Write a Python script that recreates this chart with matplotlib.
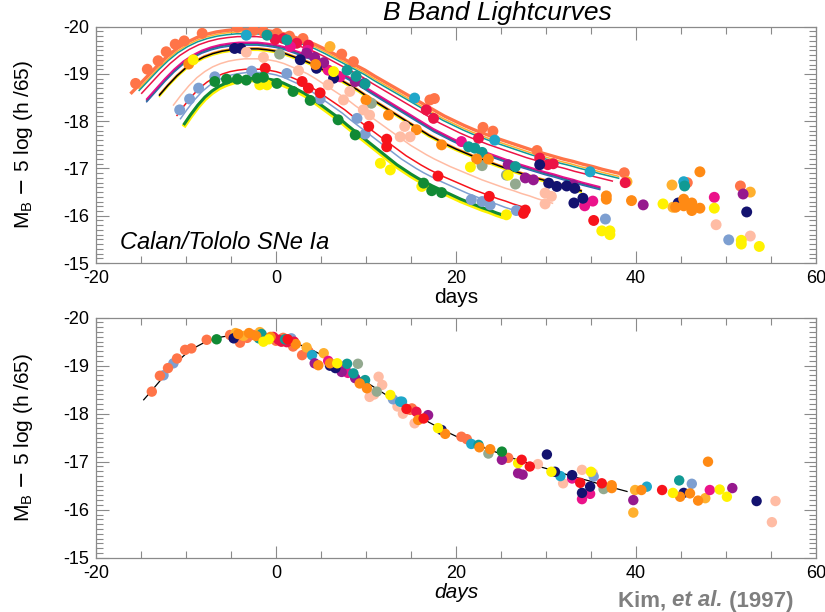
import numpy as np
import matplotlib
matplotlib.use("Agg")
import matplotlib.pyplot as plt
from matplotlib.ticker import MultipleLocator, FormatStrFormatter

plt.rcParams['font.family'] = ['Liberation Sans', 'DejaVu Sans']
plt.rcParams['axes.unicode_minus'] = False

# ---------------- template light curve -------------
TEMPLATE_DAYS = [-14.7, -14, -13, -12, -11, -10, -9, -8, -7, -6, -5, -4, -3, -2, -1,
                 0, 1, 2, 3, 4, 5, 6, 7, 8, 9, 10, 11, 12, 13, 14, 15, 16, 17, 18, 19,
                 20, 21, 22, 23, 24, 25, 26, 27, 28, 29, 30, 31, 32, 33, 34, 35, 36,
                 37, 38, 39]
TEMPLATE_MAG = [-18.29, -18.44, -18.66, -18.88, -19.08, -19.25, -19.38, -19.48, -19.55,
                -19.60, -19.63, -19.65, -19.65, -19.65, -19.63, -19.60, -19.55, -19.48,
                -19.41, -19.33, -19.23, -19.12, -19.01, -18.90, -18.79, -18.66, -18.54,
                -18.42, -18.30, -18.18, -18.06, -17.94, -17.82, -17.72, -17.62, -17.53,
                -17.45, -17.37, -17.30, -17.23, -17.16, -17.09, -17.03, -16.97, -16.91,
                -16.86, -16.80, -16.75, -16.69, -16.64, -16.59, -16.53, -16.48, -16.43,
                -16.38]

# ---------------- colours ---------------------------------------------------
C = {
    'coral': '#FF7448', 'gold': '#FFB02E', 'cyan': '#1FA7C9', 'crimson': '#EC1446',
    'deeppink': '#EB128A', 'purple': '#96198E', 'navy': '#13126F', 'teal': '#119A94',
    'sage': '#93A98F', 'orange': '#FF8A14', 'yellow': '#FFF200', 'green': '#118A35',
    'lightblue': '#7D9FD1', 'red': '#F7131B', 'peach': '#FFBCA4', 'blue': '#3A55B5',
    'black': '#000000',
}

# ---------------- fitted curves (upper panel) -------------------------------
CURVE_COLORS = ['gold', 'teal', 'coral', 'crimson', 'blue', 'teal', 'purple', 'deeppink',
                'yellow', 'orange', 'black', 'peach', 'red', 'lightblue', 'yellow', 'green']
CURVE_WIDTHS = [1.1, 1.1, 2.4, 1.1, 1.1, 1.1, 1.1, 1.1,
                1.1, 1.1, 1.1, 1.1, 1.1, 1.1, 3.2, 2.2]
CURVE_STRETCH = [1.09, 1.09, 1.10, 1.07, 1.03, 1.03, 1.03, 1.03,
                 1.00, 1.00, 1.00, 0.88, 0.85, 0.82, 0.79, 0.79]
CURVE_DMAG = [-0.24, -0.20, -0.29, -0.14, 0.04, 0.02, 0.00, -0.02,
              0.15, 0.10, 0.12, 0.33, 0.55, 0.62, 0.78, 0.74]
CURVE_START = [-16.0, -15.9, -16.2, -15.3, -14.6, -14.6, -14.6, -14.6,
               -13.8, -13.8, -13.8, -12.3, -11.4, -10.9, -10.5, -10.5]
CURVE_END = [38.8, 38.5, 38.7, 38.4, 36.6, 36.6, 36.6, 36.6,
             34.9, 34.9, 34.9, 31.0, 28.6, 27.3, 25.8, 25.8]

# ---------------- observed points, upper panel ------------------------------
TOP_CORAL = [(-15.6, -18.80), (-14.3, -19.10), (-13.1, -19.28), (-12.2, -19.47), (-11.2, -19.63),
             (-10.2, -19.70), (-8.2, -19.86), (-4.3, -19.99), (-2.5, -19.92), (-1.4, -19.90),
             (0.1, -19.86), (1.5, -19.80), (3.0, -19.75), (7.3, -19.42), (8.6, -19.26),
             (17.1, -18.45), (17.6, -18.48), (23.0, -17.87), (24.1, -17.79), (29.0, -17.38),
             (38.7, -16.91), (45.7, -16.70), (51.6, -16.63)]
TOP_GOLD = [(6.0, -19.58), (39.0, -16.72), (44.0, -16.65), (52.7, -16.50), (44.1, -16.18)]
TOP_CYAN = [(-3.3, -19.82), (15.4, -18.49), (24.3, -17.60), (34.9, -16.93), (45.3, -16.72)]
TOP_CRIMSON = [(-0.1, -19.73), (0.8, -19.75), (2.3, -19.65), (3.6, -19.61), (16.7, -18.24),
               (17.5, -18.06), (22.5, -17.64), (29.3, -17.22), (30.2, -17.08), (30.8, -17.10),
               (38.8, -16.70)]
TOP_DEEPPINK = [(1.6, -19.58), (3.5, -19.50), (5.8, -19.08), (7.1, -18.94), (20.6, -17.57),
                (34.3, -16.21), (35.2, -16.31), (48.7, -16.39)]
TOP_PURPLE = [(3.4, -19.44), (4.3, -19.35), (5.3, -19.24), (8.8, -18.84), (9.8, -18.80),
              (25.8, -17.08), (27.7, -16.80), (28.6, -16.76), (33.0, -16.65), (40.8, -16.23),
              (51.9, -16.46)]
TOP_NAVY = [(-4.6, -19.54), (-3.9, -19.54), (2.7, -19.30), (4.5, -19.12), (6.4, -18.91),
            (29.3, -17.08), (30.3, -16.69), (31.2, -16.62), (32.3, -16.63), (33.2, -16.58),
            (34.1, -16.37), (33.1, -16.27), (44.7, -16.27), (52.3, -16.08)]
TOP_TEAL = [(-1.0, -19.82), (1.2, -19.72), (7.9, -19.08), (8.9, -18.95), (9.9, -18.79),
            (21.4, -17.46), (22.1, -17.43), (22.9, -17.34), (26.6, -17.04), (45.4, -16.63)]
TOP_SAGE = [(0.4, -19.42), (10.6, -18.38), (22.9, -17.06), (25.6, -16.86), (26.6, -16.67)]
TOP_ORANGE = [(-9.7, -19.21), (4.4, -19.20), (10.0, -18.45), (12.5, -18.13), (15.6, -17.82),
              (18.4, -17.50), (22.3, -17.20), (23.6, -17.20), (36.7, -16.42), (36.7, -16.35),
              (39.5, -16.32), (45.3, -16.35), (46.2, -16.27), (47.1, -16.16), (45.3, -16.21),
              (46.2, -16.11), (44.4, -16.18), (47.1, -16.93)]
TOP_YELLOW = [(-9.2, -19.30), (-1.8, -18.77), (-1.0, -18.77), (6.4, -19.05), (11.6, -17.11),
              (12.7, -16.97), (16.2, -16.62), (21.6, -17.03), (25.8, -16.86), (25.6, -16.02),
              (36.2, -15.68), (37.1, -15.68), (37.1, -15.60), (43.0, -16.25), (48.7, -16.16),
              (51.7, -15.48), (51.7, -15.40), (53.7, -15.35)]
TOP_GREEN = [(-6.8, -18.84), (-5.5, -18.89), (-4.3, -18.89), (-3.3, -18.87), (-2.1, -18.91),
             (-1.4, -18.93), (0.1, -18.80), (1.9, -18.63), (3.8, -18.44), (6.9, -18.03),
             (8.8, -17.71), (16.4, -16.69), (17.3, -16.53), (18.4, -16.49)]
TOP_LIGHTBLUE = [(-10.7, -18.24), (-9.6, -18.47), (-8.6, -18.70), (-6.8, -18.94), (-2.7, -19.06),
                 (1.2, -19.01), (4.9, -18.47), (9.0, -18.06), (9.9, -17.73), (21.7, -16.34),
                 (22.9, -16.30), (23.8, -16.23), (26.7, -16.11), (36.6, -15.93), (50.3, -15.49)]
TOP_RED = [(-1.2, -19.12), (2.9, -18.84), (3.6, -18.70), (4.9, -18.60), (10.3, -17.89),
           (12.3, -17.62), (12.3, -17.46), (18.0, -16.84), (23.7, -16.41), (27.5, -16.05),
           (27.7, -16.12), (35.3, -15.90)]
TOP_PEACH = [(-3.3, -19.46), (-1.4, -19.35), (2.5, -19.07), (5.8, -18.77), (8.2, -18.63),
             (7.5, -18.45), (9.7, -18.24), (10.4, -18.13), (13.8, -17.67), (14.3, -17.89),
             (14.9, -17.67), (29.9, -16.48), (30.6, -16.41), (29.9, -16.25), (48.9, -15.81),
             (52.7, -15.57)]

# ---------------- corrected points, lower panel -----------------------------
BOT_CORAL = [(-13.8, -18.46), (-12.9, -18.79), (-12.0, -18.95), (-11.0, -19.15), (-10.1, -19.33),
             (-9.4, -19.36), (-7.7, -19.54), (-5.1, -19.64), (-4.8, -19.60), (-4.0, -19.48),
             (-3.2, -19.58), (-2.5, -19.64), (-1.1, -19.57), (0.0, -19.52), (0.8, -19.58),
             (1.9, -19.40), (2.9, -19.22), (3.6, -19.30), (14.9, -18.08), (15.1, -18.11),
             (20.6, -17.52), (21.2, -17.47), (25.8, -17.08)]
BOT_GOLD = [(-4.5, -19.68), (-3.6, -19.62), (-1.8, -19.70), (3.4, -19.38), (5.3, -19.26),
            (39.9, -16.41), (39.7, -15.94), (47.7, -16.24)]
BOT_CYAN = [(4.0, -19.22), (13.8, -18.25), (14.0, -18.25), (21.7, -17.37), (31.6, -16.70),
            (41.2, -16.48)]
BOT_CRIMSON = [(-0.3, -19.60), (0.3, -19.54), (0.6, -19.50), (1.2, -19.49), (2.0, -19.50),
               (15.6, -18.04)]
BOT_DEEPPINK = [(5.8, -19.10), (7.5, -18.98), (8.0, -18.85), (32.9, -16.65), (34.0, -16.22),
                (34.9, -16.33), (48.2, -16.41)]
BOT_PURPLE = [(4.3, -19.05), (6.2, -19.02), (7.3, -18.87), (8.8, -18.74), (16.9, -17.97),
              (25.1, -17.04), (26.9, -16.76), (27.4, -16.73), (39.7, -16.20), (50.7, -16.45)]
BOT_NAVY = [(-4.7, -19.57), (6.0, -19.00), (6.6, -18.95), (18.4, -17.66), (30.1, -17.15),
            (31.0, -16.79), (32.9, -16.72), (34.0, -16.35), (34.9, -16.48), (45.3, -16.35),
            (53.4, -16.18)]
BOT_TEAL = [(-1.9, -19.57), (-1.6, -19.66), (1.0, -19.55), (7.9, -19.04), (8.6, -18.84),
            (9.9, -18.70), (22.5, -17.35), (44.8, -16.61)]
BOT_SAGE = [(9.1, -19.04), (11.2, -18.46), (23.6, -17.17), (36.4, -16.43)]
BOT_ORANGE = [(-4.2, -19.66), (-3.0, -19.68), (-2.2, -19.62), (-0.6, -19.60), (2.2, -19.45),
              (4.7, -19.01), (6.0, -19.05), (9.3, -18.63), (10.1, -18.53), (15.8, -17.87),
              (18.8, -17.58), (22.6, -17.30), (23.8, -17.26), (37.3, -16.51), (37.3, -16.45),
              (40.6, -16.41), (44.9, -16.27), (46.0, -16.34), (46.9, -16.19), (48.0, -17.00)]
BOT_YELLOW = [(-1.4, -19.50), (-0.8, -19.55), (6.8, -19.05), (12.7, -18.39), (18.0, -17.70),
              (26.9, -16.97), (30.6, -16.79), (35.0, -16.79), (44.1, -16.35), (49.3, -16.42),
              (50.1, -16.27)]
BOT_GREEN = [(-6.6, -19.55), (25.1, -17.21)]
BOT_LIGHTBLUE = [(-12.5, -18.80), (-11.4, -19.05), (1.7, -19.57), (13.0, -18.30),
                 (35.3, -16.69), (46.2, -16.54)]
BOT_RED = [(1.3, -19.55), (14.5, -18.10), (16.4, -17.90), (27.3, -17.04), (28.2, -16.90),
           (33.8, -16.56), (36.2, -16.55), (42.9, -16.41)]
BOT_PEACH = [(10.4, -18.35), (10.9, -18.40), (11.4, -18.77), (11.8, -18.60), (13.5, -18.15),
             (14.1, -18.00), (15.4, -17.80), (29.1, -16.95), (31.9, -16.55), (34.0, -16.83),
             (35.2, -16.76), (55.5, -16.18), (55.1, -15.74)]

TOP_SETS = [('coral', TOP_CORAL), ('gold', TOP_GOLD), ('cyan', TOP_CYAN),
            ('crimson', TOP_CRIMSON), ('deeppink', TOP_DEEPPINK), ('purple', TOP_PURPLE),
            ('navy', TOP_NAVY), ('teal', TOP_TEAL), ('sage', TOP_SAGE),
            ('orange', TOP_ORANGE), ('peach', TOP_PEACH), ('yellow', TOP_YELLOW),
            ('lightblue', TOP_LIGHTBLUE), ('red', TOP_RED), ('green', TOP_GREEN)]
BOT_SETS = [('peach', BOT_PEACH), ('sage', BOT_SAGE), ('lightblue', BOT_LIGHTBLUE),
            ('coral', BOT_CORAL), ('gold', BOT_GOLD), ('cyan', BOT_CYAN),
            ('crimson', BOT_CRIMSON), ('deeppink', BOT_DEEPPINK), ('purple', BOT_PURPLE),
            ('navy', BOT_NAVY), ('teal', BOT_TEAL), ('orange', BOT_ORANGE),
            ('yellow', BOT_YELLOW), ('green', BOT_GREEN), ('red', BOT_RED)]

X_TICKS = [-20, 0, 20, 40, 60]
Y_TICKS = [-20, -19, -18, -17, -16, -15]

# ---------------- figure ----------------------------------------------------
W, H = 825, 612
fig = plt.figure(figsize=(W / 100, H / 100), dpi=100)
ax1 = fig.add_axes([96 / W, 1 - 263 / H, 720 / W, (263 - 26.7) / H])
ax2 = fig.add_axes([96 / W, 1 - 557.7 / H, 720 / W, (557.7 - 317.7) / H])

td = np.array(TEMPLATE_DAYS)
tm = np.array(TEMPLATE_MAG)

for col, lw, s, dm, d0, d1 in zip(CURVE_COLORS, CURVE_WIDTHS, CURVE_STRETCH,
                                  CURVE_DMAG, CURVE_START, CURVE_END):
    x = td * s
    sel = (x >= d0 - 0.01) & (x <= d1 + 0.01)
    ax1.plot(x[sel], tm[sel] + dm, color=C[col], lw=lw, zorder=2,
             solid_capstyle='butt')

for col, pts in TOP_SETS:
    arr = np.array(pts)
    ax1.scatter(arr[:, 0], arr[:, 1], s=62, color=C[col], edgecolors='none', zorder=3)

ax2.plot(td, tm, color='black', lw=0.9, zorder=2)
for col, pts in BOT_SETS:
    arr = np.array(pts)
    ax2.scatter(arr[:, 0], arr[:, 1], s=56, color=C[col], edgecolors='none', zorder=3)

for ax in (ax1, ax2):
    ax.set_xlim(-20, 60)
    ax.set_ylim(-15, -20)
    ax.set_xticks(X_TICKS)
    ax.set_yticks(Y_TICKS)
    ax.xaxis.set_major_formatter(FormatStrFormatter('%d'))
    ax.yaxis.set_major_formatter(FormatStrFormatter('%d'))
    ax.xaxis.set_minor_locator(MultipleLocator(5))
    ax.yaxis.set_minor_locator(MultipleLocator(0.1))
    ax.tick_params(which='both', direction='in', top=True, right=True,
                   color='#8a8a8a', labelsize=13, width=0.8)
    ax.tick_params(which='major', length=9, pad=5)
    ax.tick_params(which='minor', length=5)
    for sp in ax.spines.values():
        sp.set_color('#8a8a8a')
        sp.set_linewidth(0.9)
    ax.set_ylabel('M$_\\mathregular{B}$ $-$ 5 log (h /65)',
                  family=['Liberation Sans Narrow', 'Liberation Sans', 'DejaVu Sans'],
                  fontsize=15, labelpad=20)

ax1.set_xlabel('days', fontsize=15, labelpad=1)
ax2.set_xlabel('days', fontsize=15, style='italic', labelpad=1)

ax1.text(-17.3, -15.43, 'Calan/Tololo SNe Ia', style='italic', fontsize=17,
         ha='left', va='center')

fig.text(497 / W, 1 - 13 / H, 'B Band Lightcurves', style='italic', fontsize=19,
         ha='center', va='center')

fs_k = 16
t1 = fig.text(618 / W, 1 - 601 / H, 'Kim, ', color='#7f7f7f', fontsize=fs_k,
              fontweight='bold', ha='left', va='center')
fig.canvas.draw()
r = fig.canvas.get_renderer()
bb = t1.get_window_extent(r)
t2 = fig.text(bb.x1 / W, 1 - 601 / H, 'et al.', color='#7f7f7f', fontsize=fs_k,
              fontweight='bold', style='italic', ha='left', va='center')
bb2 = t2.get_window_extent(r)
fig.text(bb2.x1 / W, 1 - 601 / H, ' (1997)', color='#7f7f7f', fontsize=fs_k,
         fontweight='bold', ha='left', va='center')

fig.savefig('out.png', dpi=100)
